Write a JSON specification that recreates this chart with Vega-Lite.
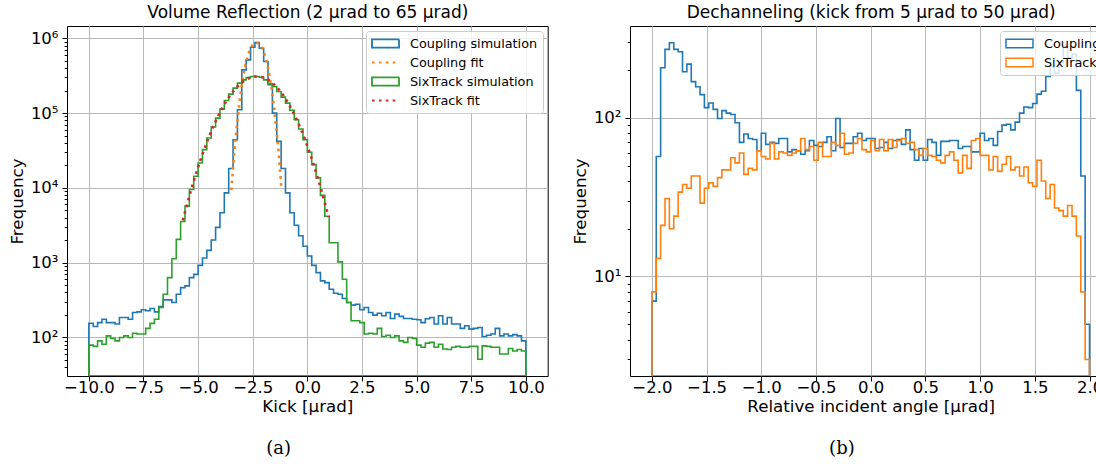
{
  "$schema": "https://vega.github.io/schema/vega-lite/v6.json",
  "background": "white",
  "padding": {"left": 8, "top": 2, "right": 0, "bottom": 0},
  "config": {
    "font": "DejaVu Sans",
    "view": {"stroke": "black", "strokeWidth": 1},
    "axis": {
      "domain": false,
      "labelFont": "DejaVu Sans",
      "labelFontSize": 16.5,
      "labelColor": "black",
      "titleFont": "DejaVu Sans",
      "titleFontSize": 16.7,
      "titleFontWeight": "normal",
      "titleColor": "black",
      "tickColor": "black",
      "tickWidth": 1,
      "gridColor": "#b8b8b8",
      "gridWidth": 1,
      "labelFlush": false,
      "labelOverlap": false
    },
    "legend": {
      "labelFont": "DejaVu Sans",
      "labelFontSize": 12.8,
      "labelColor": "black",
      "symbolSize": 729,
      "clipHeight": 15,
      "rowPadding": 4,
      "labelOffset": 10,
      "padding": 5,
      "cornerRadius": 3,
      "fillColor": "rgba(255,255,255,0.8)",
      "strokeColor": "#cccccc",
      "symbolFillColor": "transparent",
      "symbolOpacity": 1,
      "symbolStrokeWidth": 1.8,
      "offset": 5
    },
    "title": {"font": "DejaVu Serif", "fontSize": 18, "fontWeight": "normal", "color": "black"}
  },
  "datasets": {
    "vr": [
      {"lo": -10.0, "hi": -9.8, "coupling": 155, "sixtrack": 79},
      {"lo": -9.8, "hi": -9.6, "coupling": 140, "sixtrack": 76},
      {"lo": -9.6, "hi": -9.4, "coupling": 158, "sixtrack": 90},
      {"lo": -9.4, "hi": -9.2, "coupling": 175, "sixtrack": 81},
      {"lo": -9.2, "hi": -9.0, "coupling": 158, "sixtrack": 105},
      {"lo": -9.0, "hi": -8.8, "coupling": 158, "sixtrack": 97},
      {"lo": -8.8, "hi": -8.6, "coupling": 151, "sixtrack": 90},
      {"lo": -8.6, "hi": -8.4, "coupling": 185, "sixtrack": 100},
      {"lo": -8.4, "hi": -8.2, "coupling": 185, "sixtrack": 105},
      {"lo": -8.2, "hi": -8.0, "coupling": 175, "sixtrack": 100},
      {"lo": -8.0, "hi": -7.8, "coupling": 215, "sixtrack": 114},
      {"lo": -7.8, "hi": -7.6, "coupling": 220, "sixtrack": 111},
      {"lo": -7.6, "hi": -7.4, "coupling": 234, "sixtrack": 111},
      {"lo": -7.4, "hi": -7.2, "coupling": 227, "sixtrack": 132},
      {"lo": -7.2, "hi": -7.0, "coupling": 244, "sixtrack": 154},
      {"lo": -7.0, "hi": -6.8, "coupling": 220, "sixtrack": 175},
      {"lo": -6.8, "hi": -6.6, "coupling": 259, "sixtrack": 251},
      {"lo": -6.6, "hi": -6.4, "coupling": 318, "sixtrack": 378},
      {"lo": -6.4, "hi": -6.2, "coupling": 318, "sixtrack": 631},
      {"lo": -6.2, "hi": -6.0, "coupling": 293, "sixtrack": 1130},
      {"lo": -6.0, "hi": -5.8, "coupling": 378, "sixtrack": 2046},
      {"lo": -5.8, "hi": -5.6, "coupling": 464, "sixtrack": 3556},
      {"lo": -5.6, "hi": -5.4, "coupling": 489, "sixtrack": 5702},
      {"lo": -5.4, "hi": -5.2, "coupling": 631, "sixtrack": 9506},
      {"lo": -5.2, "hi": -5.0, "coupling": 698, "sixtrack": 14320},
      {"lo": -5.0, "hi": -4.8, "coupling": 920, "sixtrack": 21530},
      {"lo": -4.8, "hi": -4.6, "coupling": 1153, "sixtrack": 32430},
      {"lo": -4.6, "hi": -4.4, "coupling": 1459, "sixtrack": 46450},
      {"lo": -4.4, "hi": -4.2, "coupling": 2004, "sixtrack": 65010},
      {"lo": -4.2, "hi": -4.0, "coupling": 2958, "sixtrack": 85700},
      {"lo": -4.0, "hi": -3.8, "coupling": 4645, "sixtrack": 113000},
      {"lo": -3.8, "hi": -3.6, "coupling": 8570, "sixtrack": 147600},
      {"lo": -3.6, "hi": -3.4, "coupling": 18110, "sixtrack": 179100},
      {"lo": -3.4, "hi": -3.2, "coupling": 44060, "sixtrack": 215300},
      {"lo": -3.2, "hi": -3.0, "coupling": 110700, "sixtrack": 251200},
      {"lo": -3.0, "hi": -2.8, "coupling": 378400, "sixtrack": 278000},
      {"lo": -2.8, "hi": -2.6, "coupling": 514000, "sixtrack": 299200},
      {"lo": -2.6, "hi": -2.4, "coupling": 758600, "sixtrack": 308300},
      {"lo": -2.4, "hi": -2.2, "coupling": 875000, "sixtrack": 308300},
      {"lo": -2.2, "hi": -2.0, "coupling": 736200, "sixtrack": 302000},
      {"lo": -2.0, "hi": -1.8, "coupling": 488700, "sixtrack": 278000},
      {"lo": -1.8, "hi": -1.6, "coupling": 238800, "sixtrack": 246000},
      {"lo": -1.6, "hi": -1.4, "coupling": 100000, "sixtrack": 227000},
      {"lo": -1.4, "hi": -1.2, "coupling": 41880, "sixtrack": 194500},
      {"lo": -1.2, "hi": -1.0, "coupling": 18110, "sixtrack": 163300},
      {"lo": -1.0, "hi": -0.8, "coupling": 8570, "sixtrack": 135800},
      {"lo": -0.8, "hi": -0.6, "coupling": 4645, "sixtrack": 108600},
      {"lo": -0.6, "hi": -0.4, "coupling": 3162, "sixtrack": 81470},
      {"lo": -0.4, "hi": -0.2, "coupling": 2291, "sixtrack": 61240},
      {"lo": -0.2, "hi": 0.0, "coupling": 1660, "sixtrack": 44060},
      {"lo": 0.0, "hi": 0.2, "coupling": 1227, "sixtrack": 29920},
      {"lo": 0.2, "hi": 0.4, "coupling": 920, "sixtrack": 20460},
      {"lo": 0.4, "hi": 0.6, "coupling": 736, "sixtrack": 13580},
      {"lo": 0.6, "hi": 0.8, "coupling": 570, "sixtrack": 7943},
      {"lo": 0.8, "hi": 1.0, "coupling": 541, "sixtrack": 4169},
      {"lo": 1.0, "hi": 1.2, "coupling": 441, "sixtrack": 1849},
      {"lo": 1.2, "hi": 1.4, "coupling": 390, "sixtrack": 1849},
      {"lo": 1.4, "hi": 1.6, "coupling": 378, "sixtrack": 1023},
      {"lo": 1.6, "hi": 1.8, "coupling": 331, "sixtrack": 600},
      {"lo": 1.8, "hi": 2.0, "coupling": 293, "sixtrack": 293},
      {"lo": 2.0, "hi": 2.2, "coupling": 270, "sixtrack": 167},
      {"lo": 2.2, "hi": 2.4, "coupling": 278, "sixtrack": 167},
      {"lo": 2.4, "hi": 2.6, "coupling": 234, "sixtrack": 158},
      {"lo": 2.6, "hi": 2.8, "coupling": 251, "sixtrack": 111},
      {"lo": 2.8, "hi": 3.0, "coupling": 215, "sixtrack": 114},
      {"lo": 3.0, "hi": 3.2, "coupling": 199, "sixtrack": 111},
      {"lo": 3.2, "hi": 3.4, "coupling": 211, "sixtrack": 132},
      {"lo": 3.4, "hi": 3.6, "coupling": 195, "sixtrack": 103},
      {"lo": 3.6, "hi": 3.8, "coupling": 215, "sixtrack": 107},
      {"lo": 3.8, "hi": 4.0, "coupling": 179, "sixtrack": 100},
      {"lo": 4.0, "hi": 4.2, "coupling": 205, "sixtrack": 105},
      {"lo": 4.2, "hi": 4.4, "coupling": 191, "sixtrack": 90},
      {"lo": 4.4, "hi": 4.6, "coupling": 179, "sixtrack": 86},
      {"lo": 4.6, "hi": 4.8, "coupling": 179, "sixtrack": 100},
      {"lo": 4.8, "hi": 5.0, "coupling": 175, "sixtrack": 97},
      {"lo": 5.0, "hi": 5.2, "coupling": 172, "sixtrack": 79},
      {"lo": 5.2, "hi": 5.4, "coupling": 158, "sixtrack": 74},
      {"lo": 5.4, "hi": 5.6, "coupling": 178, "sixtrack": 84},
      {"lo": 5.6, "hi": 5.8, "coupling": 185, "sixtrack": 86},
      {"lo": 5.8, "hi": 6.0, "coupling": 151, "sixtrack": 74},
      {"lo": 6.0, "hi": 6.2, "coupling": 195, "sixtrack": 81},
      {"lo": 6.2, "hi": 6.4, "coupling": 151, "sixtrack": 70},
      {"lo": 6.4, "hi": 6.6, "coupling": 185, "sixtrack": 69},
      {"lo": 6.6, "hi": 6.8, "coupling": 151, "sixtrack": 74},
      {"lo": 6.8, "hi": 7.0, "coupling": 151, "sixtrack": 76},
      {"lo": 7.0, "hi": 7.2, "coupling": 132, "sixtrack": 74},
      {"lo": 7.2, "hi": 7.4, "coupling": 143, "sixtrack": 74},
      {"lo": 7.4, "hi": 7.6, "coupling": 129, "sixtrack": 76},
      {"lo": 7.6, "hi": 7.8, "coupling": 132, "sixtrack": 76},
      {"lo": 7.8, "hi": 8.0, "coupling": 136, "sixtrack": 51},
      {"lo": 8.0, "hi": 8.2, "coupling": 103, "sixtrack": 77},
      {"lo": 8.2, "hi": 8.4, "coupling": 107, "sixtrack": 76},
      {"lo": 8.4, "hi": 8.6, "coupling": 111, "sixtrack": 74},
      {"lo": 8.6, "hi": 8.8, "coupling": 132, "sixtrack": 74},
      {"lo": 8.8, "hi": 9.0, "coupling": 105, "sixtrack": 60},
      {"lo": 9.0, "hi": 9.2, "coupling": 111, "sixtrack": 60},
      {"lo": 9.2, "hi": 9.4, "coupling": 105, "sixtrack": 71},
      {"lo": 9.4, "hi": 9.6, "coupling": 109, "sixtrack": 66},
      {"lo": 9.6, "hi": 9.8, "coupling": 105, "sixtrack": 69},
      {"lo": 9.8, "hi": 10.0, "coupling": 90, "sixtrack": 66}
    ],
    "couplingFit": [
      {"x": -3.48, "n": 9333}, {"x": -3.43, "n": 14450}, {"x": -3.33, "n": 33880},
      {"x": -3.23, "n": 66070}, {"x": -3.13, "n": 120200}, {"x": -3.03, "n": 208900},
      {"x": -2.93, "n": 316200}, {"x": -2.83, "n": 446700}, {"x": -2.73, "n": 575400},
      {"x": -2.63, "n": 707900}, {"x": -2.53, "n": 794300}, {"x": -2.43, "n": 851100},
      {"x": -2.33, "n": 871000}, {"x": -2.23, "n": 851100}, {"x": -2.13, "n": 794300},
      {"x": -2.03, "n": 707900}, {"x": -1.93, "n": 575400}, {"x": -1.83, "n": 446700},
      {"x": -1.73, "n": 316200}, {"x": -1.63, "n": 208900}, {"x": -1.53, "n": 120200},
      {"x": -1.43, "n": 66070}, {"x": -1.33, "n": 33880}, {"x": -1.23, "n": 14450},
      {"x": -1.18, "n": 9333}
    ],
    "sixtrackFit": [
      {"x": -5.7, "n": 3673}, {"x": -5.6, "n": 4753}, {"x": -5.5, "n": 6095},
      {"x": -5.4, "n": 7762}, {"x": -5.3, "n": 9806}, {"x": -5.2, "n": 12300},
      {"x": -5.1, "n": 15310}, {"x": -5.0, "n": 18880}, {"x": -4.9, "n": 23150},
      {"x": -4.8, "n": 28120}, {"x": -4.7, "n": 33960}, {"x": -4.6, "n": 40640},
      {"x": -4.5, "n": 48310}, {"x": -4.4, "n": 57020}, {"x": -4.3, "n": 66680},
      {"x": -4.2, "n": 77450}, {"x": -4.1, "n": 89330}, {"x": -4.0, "n": 102100},
      {"x": -3.9, "n": 115900}, {"x": -3.8, "n": 130300}, {"x": -3.7, "n": 145900},
      {"x": -3.6, "n": 161800}, {"x": -3.5, "n": 177800}, {"x": -3.4, "n": 194500},
      {"x": -3.3, "n": 210600}, {"x": -3.2, "n": 226500}, {"x": -3.1, "n": 241500},
      {"x": -3.0, "n": 255900}, {"x": -2.9, "n": 269200}, {"x": -2.8, "n": 280500},
      {"x": -2.7, "n": 290400}, {"x": -2.6, "n": 298500}, {"x": -2.5, "n": 304100},
      {"x": -2.4, "n": 307600}, {"x": -2.3, "n": 309000}, {"x": -2.2, "n": 307600},
      {"x": -2.1, "n": 304100}, {"x": -2.0, "n": 297900}, {"x": -1.9, "n": 289700},
      {"x": -1.8, "n": 279300}, {"x": -1.7, "n": 267300}, {"x": -1.6, "n": 253500},
      {"x": -1.5, "n": 238200}, {"x": -1.4, "n": 222300}, {"x": -1.3, "n": 206100},
      {"x": -1.2, "n": 189200}, {"x": -1.1, "n": 172600}, {"x": -1.0, "n": 156000},
      {"x": -0.9, "n": 139600}, {"x": -0.8, "n": 124200}, {"x": -0.7, "n": 109400},
      {"x": -0.6, "n": 95720}, {"x": -0.5, "n": 83180}, {"x": -0.4, "n": 71610},
      {"x": -0.3, "n": 61090}, {"x": -0.2, "n": 51760}, {"x": -0.1, "n": 43450},
      {"x": 0.0, "n": 36220}, {"x": 0.1, "n": 29920}, {"x": 0.2, "n": 24550},
      {"x": 0.3, "n": 19950}, {"x": 0.4, "n": 16110}, {"x": 0.5, "n": 12880},
      {"x": 0.6, "n": 10230}, {"x": 0.7, "n": 8054}, {"x": 0.8, "n": 6295},
      {"x": 0.9, "n": 4875}, {"x": 0.97, "n": 4055}
    ],
    "dech": [
      {"lo": -2.0, "hi": -1.96, "coupling": 7, "sixtrack": 8},
      {"lo": -1.96, "hi": -1.92, "coupling": 57, "sixtrack": 13},
      {"lo": -1.92, "hi": -1.88, "coupling": 207, "sixtrack": 21},
      {"lo": -1.88, "hi": -1.84, "coupling": 270, "sixtrack": 31},
      {"lo": -1.84, "hi": -1.8, "coupling": 297, "sixtrack": 20},
      {"lo": -1.8, "hi": -1.76, "coupling": 270, "sixtrack": 24},
      {"lo": -1.76, "hi": -1.72, "coupling": 261, "sixtrack": 34},
      {"lo": -1.72, "hi": -1.68, "coupling": 195, "sixtrack": 38},
      {"lo": -1.68, "hi": -1.64, "coupling": 218, "sixtrack": 36},
      {"lo": -1.64, "hi": -1.6, "coupling": 169, "sixtrack": 43},
      {"lo": -1.6, "hi": -1.56, "coupling": 157, "sixtrack": 43},
      {"lo": -1.56, "hi": -1.52, "coupling": 140, "sixtrack": 29},
      {"lo": -1.52, "hi": -1.48, "coupling": 116, "sixtrack": 36},
      {"lo": -1.48, "hi": -1.44, "coupling": 124, "sixtrack": 39},
      {"lo": -1.44, "hi": -1.4, "coupling": 113, "sixtrack": 37},
      {"lo": -1.4, "hi": -1.36, "coupling": 99, "sixtrack": 42},
      {"lo": -1.36, "hi": -1.32, "coupling": 111, "sixtrack": 47},
      {"lo": -1.32, "hi": -1.28, "coupling": 107, "sixtrack": 47},
      {"lo": -1.28, "hi": -1.24, "coupling": 105, "sixtrack": 56},
      {"lo": -1.24, "hi": -1.2, "coupling": 93, "sixtrack": 52},
      {"lo": -1.2, "hi": -1.16, "coupling": 70, "sixtrack": 60},
      {"lo": -1.16, "hi": -1.12, "coupling": 79, "sixtrack": 44},
      {"lo": -1.12, "hi": -1.08, "coupling": 74, "sixtrack": 48},
      {"lo": -1.08, "hi": -1.04, "coupling": 73, "sixtrack": 47},
      {"lo": -1.04, "hi": -1.0, "coupling": 62, "sixtrack": 62},
      {"lo": -1.0, "hi": -0.96, "coupling": 80, "sixtrack": 57},
      {"lo": -0.96, "hi": -0.92, "coupling": 68, "sixtrack": 55},
      {"lo": -0.92, "hi": -0.88, "coupling": 70, "sixtrack": 69},
      {"lo": -0.88, "hi": -0.84, "coupling": 69, "sixtrack": 55},
      {"lo": -0.84, "hi": -0.8, "coupling": 74, "sixtrack": 61},
      {"lo": -0.8, "hi": -0.76, "coupling": 74, "sixtrack": 60},
      {"lo": -0.76, "hi": -0.72, "coupling": 61, "sixtrack": 58},
      {"lo": -0.72, "hi": -0.68, "coupling": 63, "sixtrack": 60},
      {"lo": -0.68, "hi": -0.64, "coupling": 62, "sixtrack": 62},
      {"lo": -0.64, "hi": -0.6, "coupling": 59, "sixtrack": 74},
      {"lo": -0.6, "hi": -0.56, "coupling": 62, "sixtrack": 63},
      {"lo": -0.56, "hi": -0.52, "coupling": 72, "sixtrack": 66},
      {"lo": -0.52, "hi": -0.48, "coupling": 67, "sixtrack": 54},
      {"lo": -0.48, "hi": -0.44, "coupling": 66, "sixtrack": 70},
      {"lo": -0.44, "hi": -0.4, "coupling": 70, "sixtrack": 57},
      {"lo": -0.4, "hi": -0.36, "coupling": 76, "sixtrack": 57},
      {"lo": -0.36, "hi": -0.32, "coupling": 62, "sixtrack": 70},
      {"lo": -0.32, "hi": -0.28, "coupling": 99, "sixtrack": 67},
      {"lo": -0.28, "hi": -0.24, "coupling": 65, "sixtrack": 80},
      {"lo": -0.24, "hi": -0.2, "coupling": 69, "sixtrack": 59},
      {"lo": -0.2, "hi": -0.16, "coupling": 69, "sixtrack": 60},
      {"lo": -0.16, "hi": -0.12, "coupling": 76, "sixtrack": 69},
      {"lo": -0.12, "hi": -0.08, "coupling": 80, "sixtrack": 74},
      {"lo": -0.08, "hi": -0.04, "coupling": 72, "sixtrack": 63},
      {"lo": -0.04, "hi": 0.0, "coupling": 74, "sixtrack": 61},
      {"lo": 0.0, "hi": 0.04, "coupling": 74, "sixtrack": 72},
      {"lo": 0.04, "hi": 0.08, "coupling": 64, "sixtrack": 62},
      {"lo": 0.08, "hi": 0.12, "coupling": 65, "sixtrack": 73},
      {"lo": 0.12, "hi": 0.16, "coupling": 70, "sixtrack": 62},
      {"lo": 0.16, "hi": 0.2, "coupling": 64, "sixtrack": 73},
      {"lo": 0.2, "hi": 0.24, "coupling": 72, "sixtrack": 65},
      {"lo": 0.24, "hi": 0.28, "coupling": 73, "sixtrack": 72},
      {"lo": 0.28, "hi": 0.32, "coupling": 68, "sixtrack": 74},
      {"lo": 0.32, "hi": 0.36, "coupling": 84, "sixtrack": 69},
      {"lo": 0.36, "hi": 0.4, "coupling": 63, "sixtrack": 70},
      {"lo": 0.4, "hi": 0.44, "coupling": 54, "sixtrack": 63},
      {"lo": 0.44, "hi": 0.48, "coupling": 64, "sixtrack": 58},
      {"lo": 0.48, "hi": 0.52, "coupling": 54, "sixtrack": 64},
      {"lo": 0.52, "hi": 0.56, "coupling": 73, "sixtrack": 58},
      {"lo": 0.56, "hi": 0.6, "coupling": 70, "sixtrack": 57},
      {"lo": 0.6, "hi": 0.64, "coupling": 58, "sixtrack": 54},
      {"lo": 0.64, "hi": 0.68, "coupling": 71, "sixtrack": 52},
      {"lo": 0.68, "hi": 0.72, "coupling": 71, "sixtrack": 58},
      {"lo": 0.72, "hi": 0.76, "coupling": 72, "sixtrack": 61},
      {"lo": 0.76, "hi": 0.8, "coupling": 72, "sixtrack": 54},
      {"lo": 0.8, "hi": 0.84, "coupling": 64, "sixtrack": 45},
      {"lo": 0.84, "hi": 0.88, "coupling": 66, "sixtrack": 58},
      {"lo": 0.88, "hi": 0.92, "coupling": 66, "sixtrack": 48},
      {"lo": 0.92, "hi": 0.96, "coupling": 61, "sixtrack": 72},
      {"lo": 0.96, "hi": 1.0, "coupling": 61, "sixtrack": 74},
      {"lo": 1.0, "hi": 1.04, "coupling": 80, "sixtrack": 58},
      {"lo": 1.04, "hi": 1.08, "coupling": 72, "sixtrack": 58},
      {"lo": 1.08, "hi": 1.12, "coupling": 74, "sixtrack": 47},
      {"lo": 1.12, "hi": 1.16, "coupling": 67, "sixtrack": 57},
      {"lo": 1.16, "hi": 1.2, "coupling": 82, "sixtrack": 46},
      {"lo": 1.2, "hi": 1.24, "coupling": 90, "sixtrack": 51},
      {"lo": 1.24, "hi": 1.28, "coupling": 91, "sixtrack": 57},
      {"lo": 1.28, "hi": 1.32, "coupling": 84, "sixtrack": 47},
      {"lo": 1.32, "hi": 1.36, "coupling": 94, "sixtrack": 49},
      {"lo": 1.36, "hi": 1.4, "coupling": 107, "sixtrack": 43},
      {"lo": 1.4, "hi": 1.44, "coupling": 117, "sixtrack": 49},
      {"lo": 1.44, "hi": 1.48, "coupling": 116, "sixtrack": 39},
      {"lo": 1.48, "hi": 1.52, "coupling": 123, "sixtrack": 37},
      {"lo": 1.52, "hi": 1.56, "coupling": 141, "sixtrack": 54},
      {"lo": 1.56, "hi": 1.6, "coupling": 147, "sixtrack": 40},
      {"lo": 1.6, "hi": 1.64, "coupling": 182, "sixtrack": 31},
      {"lo": 1.64, "hi": 1.68, "coupling": 210, "sixtrack": 38},
      {"lo": 1.68, "hi": 1.72, "coupling": 191, "sixtrack": 27},
      {"lo": 1.72, "hi": 1.76, "coupling": 224, "sixtrack": 26},
      {"lo": 1.76, "hi": 1.8, "coupling": 282, "sixtrack": 24},
      {"lo": 1.8, "hi": 1.84, "coupling": 240, "sixtrack": 28},
      {"lo": 1.84, "hi": 1.88, "coupling": 251, "sixtrack": 24},
      {"lo": 1.88, "hi": 1.92, "coupling": 149, "sixtrack": 18},
      {"lo": 1.92, "hi": 1.96, "coupling": 43, "sixtrack": 8},
      {"lo": 1.96, "hi": 2.0, "coupling": 5, "sixtrack": 3}
    ]
  },
  "spacing": 22,
  "resolve": {
    "scale": {"x": "independent", "y": "independent", "stroke": "independent", "shape": "independent", "strokeDash": "independent"},
    "legend": {"stroke": "independent", "shape": "independent", "strokeDash": "independent"}
  },
  "hconcat": [
    {
      "width": 480.7,
      "height": 350,
      "title": {"text": "(a)", "orient": "bottom", "frame": "bounds", "anchor": "middle", "offset": 25},
      "resolve": {"axis": {"x": "independent"}},
      "layer": [
        {
          "data": {"name": "vr"},
          "transform": [{"fold": ["lo", "hi"], "as": ["edge", "x"]}],
          "mark": {"type": "area", "fill": "transparent", "strokeWidth": 1.6, "clip": true},
          "encoding": {
            "x": {
              "field": "x", "type": "quantitative",
              "scale": {"domain": [-11, 11], "nice": false, "zero": false},
              "axis": {
                "orient": "bottom", "title": "Kick [μrad]",
                "values": [-10, -7.5, -5, -2.5, 0, 2.5, 5, 7.5, 10],
                "format": ".1f", "grid": true, "tickSize": 5, "labelPadding": -2, "titlePadding": 3
              }
            },
            "y": {
              "field": "coupling", "type": "quantitative", "stack": null,
              "scale": {"type": "log", "domain": [30.5, 1460000], "nice": false},
              "axis": {
                "title": "Frequency",
                "values": [40, 50, 60, 70, 80, 90, 100, 200, 300, 400, 500, 600, 700, 800, 900, 1000, 2000, 3000, 4000, 5000, 6000, 7000, 8000, 9000, 10000, 20000, 30000, 40000, 50000, 60000, 70000, 80000, 90000, 100000, 200000, 300000, 400000, 500000, 600000, 700000, 800000, 900000, 1000000],
                "labelExpr": "abs(log(datum.value)/LN10 - round(log(datum.value)/LN10)) < 0.001 ? '10' + ['⁰','¹','²','³','⁴','⁵','⁶'][round(log(datum.value)/LN10)] : ''",
                "tickSize": {"condition": {"test": "abs(log(datum.value)/LN10 - round(log(datum.value)/LN10)) < 0.001", "value": 5}, "value": 2.8},
                "gridOpacity": {"condition": {"test": "abs(log(datum.value)/LN10 - round(log(datum.value)/LN10)) < 0.001", "value": 1}, "value": 0},
                "grid": true, "labelPadding": 4, "titlePadding": 4
              }
            },
            "stroke": {
              "datum": "Coupling simulation",
              "scale": {
                "domain": ["Coupling simulation", "Coupling fit", "SixTrack simulation", "SixTrack fit"],
                "range": ["#1f77b4", "#ff7f0e", "#2ca02c", "#d62728"]
              },
              "legend": {"orient": "top-right", "title": null}
            }
          }
        },
        {
          "data": {"name": "couplingFit"},
          "mark": {"type": "line", "strokeWidth": 2.6, "strokeDash": [2.6, 4.3], "clip": true},
          "encoding": {
            "x": {
              "field": "x", "type": "quantitative",
              "axis": {"orient": "top", "title": "Volume Reflection (2 μrad to 65 μrad)", "labels": false, "ticks": false, "grid": false, "domain": false, "titlePadding": 5, "titleFontSize": 17}
            },
            "y": {"field": "n", "type": "quantitative", "stack": null},
            "stroke": {"datum": "Coupling fit"}
          }
        },
        {
          "data": {"name": "vr"},
          "transform": [{"fold": ["lo", "hi"], "as": ["edge", "x"]}],
          "mark": {"type": "area", "fill": "transparent", "strokeWidth": 1.6, "clip": true},
          "encoding": {
            "x": {"field": "x", "type": "quantitative", "axis": null},
            "y": {"field": "sixtrack", "type": "quantitative", "stack": null},
            "stroke": {"datum": "SixTrack simulation"}
          }
        },
        {
          "data": {"name": "sixtrackFit"},
          "mark": {"type": "line", "strokeWidth": 2.6, "strokeDash": [2.6, 4.3], "clip": true},
          "encoding": {
            "x": {"field": "x", "type": "quantitative", "axis": null},
            "y": {"field": "n", "type": "quantitative", "stack": null},
            "stroke": {"datum": "SixTrack fit"}
          }
        },
        {
          "description": "legend key shapes: outlined patch for the histograms, dotted stroke for the fits",
          "data": {"values": []},
          "mark": {"type": "point"},
          "encoding": {
            "shape": {
              "datum": "Coupling fit",
              "scale": {
                "domain": ["Coupling simulation", "Coupling fit", "SixTrack simulation", "SixTrack fit"],
                "range": ["M-1,-0.31H1V0.31H-1Z", "stroke", "M-1,-0.31H1V0.31H-1Z", "stroke"]
              },
              "legend": {"orient": "top-right", "title": null}
            },
            "strokeDash": {
              "datum": "Coupling fit",
              "scale": {
                "domain": ["Coupling simulation", "Coupling fit", "SixTrack simulation", "SixTrack fit"],
                "range": [[1, 0], [2.6, 4.3], [1, 0], [2.6, 4.3]]
              },
              "legend": {"orient": "top-right", "title": null}
            }
          }
        }
      ]
    },
    {
      "width": 481.4,
      "height": 350,
      "title": {"text": "(b)", "orient": "bottom", "frame": "bounds", "anchor": "middle", "offset": 25},
      "resolve": {"axis": {"x": "independent"}},
      "layer": [
        {
          "data": {"name": "dech"},
          "transform": [{"fold": ["lo", "hi"], "as": ["edge", "x"]}],
          "mark": {"type": "area", "fill": "transparent", "strokeWidth": 1.6, "clip": true},
          "encoding": {
            "x": {
              "field": "x", "type": "quantitative",
              "scale": {"domain": [-2.2, 2.2], "nice": false, "zero": false},
              "axis": {
                "orient": "bottom", "title": "Relative incident angle [μrad]",
                "values": [-2, -1.5, -1, -0.5, 0, 0.5, 1, 1.5, 2],
                "format": ".1f", "grid": true, "tickSize": 5, "labelPadding": -2, "titlePadding": 3
              }
            },
            "y": {
              "field": "coupling", "type": "quantitative", "stack": null,
              "scale": {"type": "log", "domain": [2.36, 379], "nice": false},
              "axis": {
                "title": "Frequency",
                "values": [3, 4, 5, 6, 7, 8, 9, 10, 20, 30, 40, 50, 60, 70, 80, 90, 100, 200, 300],
                "labelExpr": "abs(log(datum.value)/LN10 - round(log(datum.value)/LN10)) < 0.001 ? '10' + ['⁰','¹','²','³','⁴','⁵','⁶'][round(log(datum.value)/LN10)] : ''",
                "tickSize": {"condition": {"test": "abs(log(datum.value)/LN10 - round(log(datum.value)/LN10)) < 0.001", "value": 5}, "value": 2.8},
                "gridOpacity": {"condition": {"test": "abs(log(datum.value)/LN10 - round(log(datum.value)/LN10)) < 0.001", "value": 1}, "value": 0},
                "grid": true, "labelPadding": 4, "titlePadding": 4
              }
            },
            "stroke": {
              "datum": "Coupling",
              "scale": {"domain": ["Coupling", "SixTrack"], "range": ["#1f77b4", "#ff7f0e"]},
              "legend": {
                "orient": "top-right", "title": null,
                "symbolType": "M-1,-0.31H1V0.31H-1Z",
                "symbolStrokeWidth": 1.5
              }
            }
          }
        },
        {
          "data": {"name": "dech"},
          "transform": [{"fold": ["lo", "hi"], "as": ["edge", "x"]}],
          "mark": {"type": "area", "fill": "transparent", "strokeWidth": 1.6, "clip": true},
          "encoding": {
            "x": {
              "field": "x", "type": "quantitative",
              "axis": {"orient": "top", "title": "Dechanneling (kick from 5 μrad to 50 μrad)", "labels": false, "ticks": false, "grid": false, "domain": false, "titlePadding": 5, "titleFontSize": 17}
            },
            "y": {"field": "sixtrack", "type": "quantitative", "stack": null},
            "stroke": {"datum": "SixTrack"}
          }
        }
      ]
    }
  ]
}
